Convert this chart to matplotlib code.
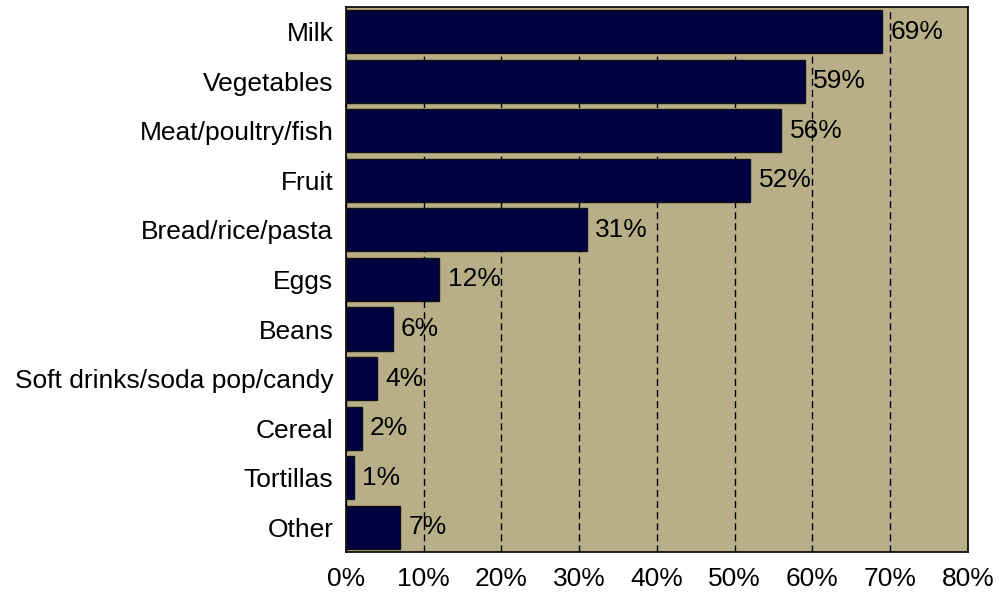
import matplotlib.pyplot as plt
from matplotlib.ticker import FuncFormatter

categories = ['Milk', 'Vegetables', 'Meat/poultry/fish', 'Fruit', 'Bread/rice/pasta',
              'Eggs', 'Beans', 'Soft drinks/soda pop/candy', 'Cereal', 'Tortillas', 'Other']
values = [69, 59, 56, 52, 31, 12, 6, 4, 2, 1, 7]
xticks = [0, 10, 20, 30, 40, 50, 60, 70, 80]

plt.rcParams['font.family'] = ['Liberation Sans', 'DejaVu Sans']

fig = plt.figure(figsize=(9.99, 5.95), dpi=100)
ax = fig.add_axes([0.3463, 0.0723, 0.6226, 0.916])
ax.set_facecolor('#b8af88')

pos = list(range(len(categories)))
ax.barh(pos, values, height=0.87, color='#000040', edgecolor='#111111', linewidth=1, zorder=3)
for p, v in zip(pos, values):
	ax.annotate(f'{v}%', (v, p), xytext=(6, 0), textcoords='offset points',
	            va='center', ha='left', fontsize=19, zorder=4)

ax.set_xlim(0, 80)
ax.set_ylim(len(categories) - 0.5, -0.5)
ax.set_xticks(xticks)
ax.xaxis.set_major_formatter(FuncFormatter(lambda x, _: f'{int(x)}%'))
ax.set_yticks(pos)
ax.set_yticklabels(categories)
ax.tick_params(axis='both', length=0, labelsize=19)
ax.tick_params(axis='x', pad=11)
ax.tick_params(axis='y', pad=9)
ax.grid(axis='x', color='black', linestyle=(0, (5, 3)), linewidth=1, zorder=1)
for s in ax.spines.values():
	s.set_linewidth(1.2)

fig.savefig('out.png', dpi=100)
